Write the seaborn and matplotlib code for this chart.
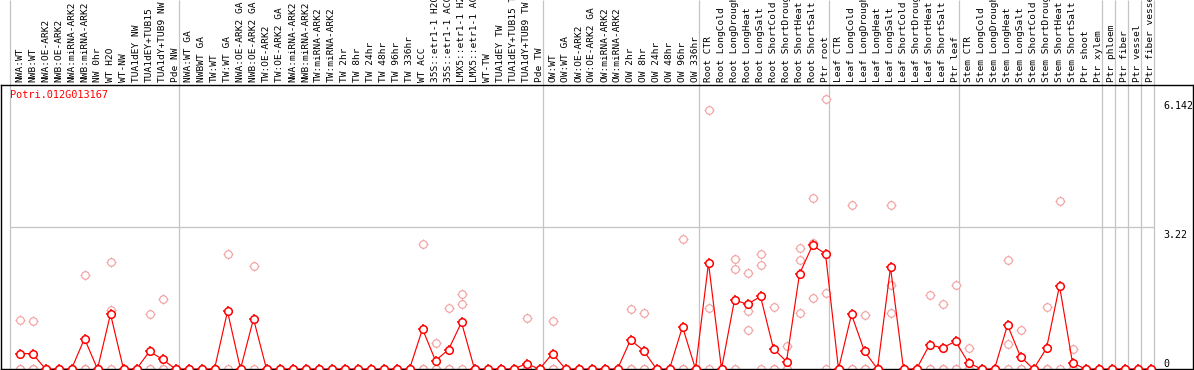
import matplotlib
matplotlib.use("Agg")
import matplotlib.pyplot as plt
import pandas as pd
import seaborn as sns
from matplotlib.transforms import blended_transform_factory

GENE = "Potri.012G013167"

samples = [
    # NW block
    "NWA:WT", "NWB:WT", "NWA:OE-ARK2", "NWB:OE-ARK2", "NWA:miRNA-ARK2",
    "NWB:miRNA-ARK2", "NW 0hr", "WT H2O", "WT-NW", "TUA1dEY NW",
    "TUA1dEY+TUB15", "TUA1dY+TUB9 NW", "Pde NW",
    # TW block
    "NWA:WT GA", "NWBWT GA", "TW:WT", "TW:WT GA", "NWA:OE-ARK2 GA",
    "NWB:OE-ARK2 GA", "TW:OE-ARK2", "TW:OE-ARK2 GA", "NWA:miRNA-ARK2",
    "NWB:miRNA-ARK2", "TW:miRNA-ARK2", "TW:miRNA-ARK2", "TW 2hr", "TW 8hr",
    "TW 24hr", "TW 48hr", "TW 96hr", "TW 336hr", "WT ACC", "35S::etr1-1 H2O",
    "35S::etr1-1 ACC", "LMX5::etr1-1 H2O", "LMX5::etr1-1 ACC", "WT-TW",
    "TUA1dEY TW", "TUA1dEY+TUB15 TW", "TUA1dY+TUB9 TW", "Pde TW",
    # OW block
    "OW:WT", "OW:WT GA", "OW:OE-ARK2", "OW:OE-ARK2 GA", "OW:miRNA-ARK2",
    "OW:miRNA-ARK2", "OW 2hr", "OW 8hr", "OW 24hr", "OW 48hr", "OW 96hr",
    "OW 336hr",
    # root stress
    "Root CTR", "Root LongCold", "Root LongDrought", "Root LongHeat",
    "Root LongSalt", "Root ShortCold", "Root ShortDrought", "Root ShortHeat",
    "Root ShortSalt", "Ptr root",
    # leaf stress
    "Leaf CTR", "Leaf LongCold", "Leaf LongDrought", "Leaf LongHeat",
    "Leaf LongSalt", "Leaf ShortCold", "Leaf ShortDrought", "Leaf ShortHeat",
    "Leaf ShortSalt", "Ptr leaf",
    # stem stress + tissues
    "Stem CTR", "Stem LongCold", "Stem LongDrought", "Stem LongHeat",
    "Stem LongSalt", "Stem ShortCold", "Stem ShortDrought", "Stem ShortHeat",
    "Stem ShortSalt", "Ptr shoot", "Ptr xylem",
    "Ptr phloem", "Ptr fiber", "Ptr vessel", "Ptr fiber vessel",
]

mean_expr = [
    0.35, 0.35, 0, 0, 0, 0.69, 0, 1.25, 0, 0, 0.40, 0.22, 0,
    0, 0, 0, 1.31, 0, 1.14, 0, 0, 0, 0, 0, 0, 0, 0, 0, 0, 0, 0,
    0.91, 0.19, 0.44, 1.06, 0, 0, 0, 0, 0.12, 0,
    0.35, 0, 0, 0, 0, 0, 0.66, 0.42, 0, 0, 0.96, 0,
    2.41, 0, 1.57, 1.47, 1.65, 0.46, 0.17, 2.16, 2.81, 2.62,
    0, 1.24, 0.40, 0, 2.31, 0, 0, 0.55, 0.48, 0.63,
    0.14, 0, 0, 1.00, 0.28, 0, 0.47, 1.89, 0.14, 0, 0,
    0, 0, 0, 0,
]

Z = [0, 0, 0]
replicates = [
    [1.12, 0, 0], [1.10, 0, 0], Z, Z, Z, [2.14, 0, 0], Z, [2.44, 1.35, 0],
    Z, Z, [1.26, 0, 0], [1.60, 0, 0], Z,
    Z, Z, Z, [2.62, 0], Z, [2.33, 0], Z, Z, Z, Z, Z, Z, Z, Z, Z, Z, Z, Z,
    [2.83, 0, 0], [0.60, 0, 0], [1.39, 0, 0], [1.71, 1.48, 0], Z, Z, Z, Z,
    [1.16, 0, 0], Z,
    [1.10, 0, 0], Z, Z, Z, Z, Z, [1.37, 0, 0], [1.28, 0, 0], Z, Z,
    [2.96, 0, 0], Z,
    [5.89, 1.39, 0], Z, [2.50, 2.28, 0], [2.19, 1.31, 0.88], [2.62, 2.37, 0],
    [1.40, 0, 0], [0.52, 0, 0], [2.75, 2.48, 1.28], [3.89, 2.86, 1.62],
    [6.142, 1.73, 0],
    Z, [3.73, 0, 0], [1.22, 0, 0], Z, [3.72, 1.90, 1.28], Z, Z,
    [1.69, 0, 0], [1.48, 0, 0], [1.92, 0, 0],
    [0.48, 0, 0], Z, Z, [2.48, 0.57, 0], [0.88, 0, 0], Z, [1.42, 0, 0],
    [3.82, 0], [0.46, 0, 0], Z, Z,
    Z, Z, Z, Z,
]

# first sample index of each block (last entry closes the final block)
block_starts = [0, 13, 41, 53, 63, 73, 84, 85, 86, 87, 88]
y_marks = [6.142, 3.22, 0]
grid_value = 3.22

W, H = 1194, 370
REP_COLOR = "#f29c9c"
MEAN_COLOR = "#ff0000"
SEP_COLOR = "#c4c4c4"

sns.set_theme(style="white")
plt.rcParams["font.family"] = ["DejaVu Sans Mono"]

rep_df = pd.DataFrame(
    [(i, v) for i, reps in enumerate(replicates) for v in reps],
    columns=["pos", "value"],
)
mean_df = pd.DataFrame({"pos": range(len(samples)), "value": mean_expr})

fig = plt.figure(figsize=(W / 100, H / 100), dpi=100)
ax = fig.add_axes([1 / W, 1 / H, 1192 / W, 284 / H])

# pixel -> data mapping: column i is centred at 19.5 + 13 * i px
col_w, col0 = 13.0, 19.5
ax.set_xlim((1 - col0) / col_w, (1193 - col0) / col_w)
ax.set_ylim(0, 284 / 44.0)
sep_shift = (col0 - 10) / col_w


def ringed_points(df, color, z, size, lw):
    # a "+" under a white-filled circle leaves four small ticks round the ring
    sns.scatterplot(data=df, x="pos", y="value", ax=ax, marker="+",
                    s=size * 1.8, color=color, linewidth=lw, zorder=z,
                    legend=False)
    sns.scatterplot(data=df, x="pos", y="value", ax=ax, marker="o", s=size,
                    facecolor="white", edgecolor=color, linewidth=lw,
                    zorder=z + 0.1, legend=False)


ringed_points(rep_df, REP_COLOR, 2, 30, 0.8)
sns.lineplot(data=mean_df, x="pos", y="value", ax=ax, color=MEAN_COLOR,
             linewidth=0.85, zorder=3, legend=False)
ringed_points(mean_df, MEAN_COLOR, 4, 30, 1.1)

xtrans = ax.get_xaxis_transform()
seps = [b - sep_shift for b in block_starts]
ax.vlines(seps, 0, 1 + 85 / 284, transform=xtrans, color=SEP_COLOR,
          linewidth=0.9, clip_on=False, zorder=1)
ax.hlines(grid_value, seps[0], seps[-1], color=SEP_COLOR, linewidth=0.9,
          zorder=1)

for i, name in enumerate(samples):
    ax.text(i, 1 + 3 / 284, name, transform=xtrans, rotation=90,
            ha="center", va="bottom", fontsize=6.8, color="black",
            clip_on=False)

ytrans = blended_transform_factory(ax.transAxes, ax.transData)
xr = (1163 - 1) / 1192
for v in y_marks:
    if v == 0:
        ax.text(xr, v, f"{v:g}", transform=ytrans, ha="left", va="bottom",
                fontsize=7.2, color="black")
    else:
        ax.text(xr, v - 0.05, f"{v:g}", transform=ytrans, ha="left",
                va="top", fontsize=7.2, color="black")

fig.text(10 / W, 1 - 90 / H, GENE, ha="left", va="top", fontsize=7.4,
         color="red")

ax.set_xticks([])
ax.set_yticks([])
ax.set_xlabel("")
ax.set_ylabel("")
for sp in ax.spines.values():
    sp.set_color("black")
    sp.set_linewidth(1.0)

fig.savefig("out.png", dpi=100, facecolor="white")
